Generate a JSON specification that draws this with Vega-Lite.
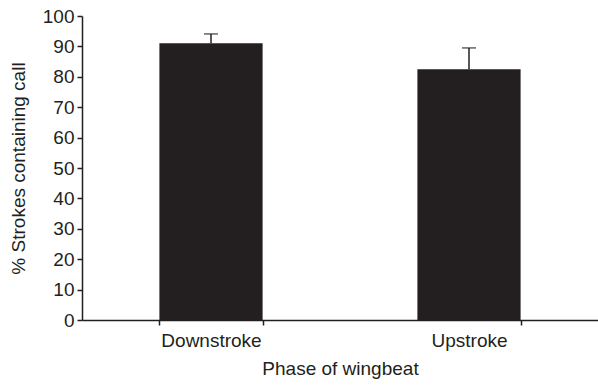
{
  "$schema": "https://vega.github.io/schema/vega-lite/v6.json",
  "autosize": "none",
  "width": 516,
  "height": 304,
  "padding": {"left": 82, "top": 16, "right": 0, "bottom": 65},
  "background": "white",
  "config": {
    "view": {"stroke": null},
    "font": "Liberation Sans",
    "axis": {
      "domainColor": "#231f20",
      "domainWidth": 1.5,
      "tickColor": "#231f20",
      "tickWidth": 1.5,
      "tickSize": 5,
      "labelColor": "#231f20",
      "titleColor": "#231f20",
      "labelFont": "Liberation Sans",
      "titleFont": "Liberation Sans",
      "labelFontSize": 19,
      "titleFontSize": 19,
      "titleFontWeight": "normal",
      "grid": false
    }
  },
  "data": {
    "values": [
      {"phase": "Downstroke", "value": 91.0, "upper": 94.1},
      {"phase": "Upstroke", "value": 82.5, "upper": 89.5}
    ]
  },
  "encoding": {
    "x": {
      "field": "phase",
      "type": "nominal",
      "sort": null,
      "scale": {"paddingInner": 0.6, "paddingOuter": 0.3},
      "axis": {"title": "Phase of wingbeat", "labelAngle": 0, "tickBand": "extent", "labelPadding": 6, "titlePadding": 9}
    },
    "y": {
      "field": "value",
      "type": "quantitative",
      "scale": {"domain": [0, 100], "nice": false},
      "axis": {"title": "% Strokes containing call", "tickCount": 10, "labelOverlap": false, "labelPadding": 3, "titlePadding": 14}
    }
  },
  "layer": [
    {
      "mark": {"type": "bar", "color": "#231f20"}
    },
    {
      "mark": {"type": "rule", "color": "#231f20", "strokeWidth": 1.5},
      "encoding": {
        "y2": {"field": "upper"}
      }
    },
    {
      "mark": {"type": "tick", "color": "#231f20", "size": 14, "thickness": 1.5},
      "encoding": {
        "y": {
          "field": "upper",
          "type": "quantitative",
          "scale": {"domain": [0, 100], "nice": false},
          "axis": {"title": "% Strokes containing call", "tickCount": 10, "labelOverlap": false, "labelPadding": 3, "titlePadding": 14}
        }
      }
    }
  ]
}
